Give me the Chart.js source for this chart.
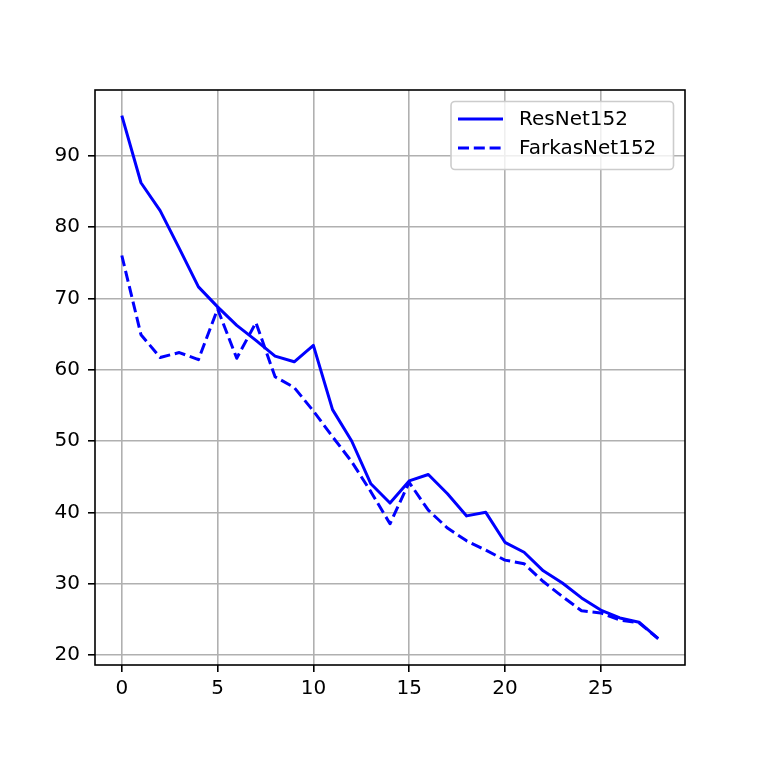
<!DOCTYPE html>
<html>
<head>
<meta charset="utf-8">
<script src="https://cdn.jsdelivr.net/npm/chart.js@4/dist/chart.umd.min.js"></script>
<style>
html,body{margin:0;padding:0;background:#fff;}
#wrap{width:761px;height:761px;position:relative;}
</style>
</head>
<body>
<div id="wrap"><canvas id="c" width="761" height="761"></canvas></div>
<script>
const epochs = [0,1,2,3,4,5,6,7,8,9,10,11,12,13,14,15,16,17,18,19,20,21,22,23,24,25,26,27,28];
const resnet152 = [95.6,86.2,82.3,77.0,71.6,68.8,66.2,64.1,61.9,61.1,63.4,54.4,50.0,44.0,41.3,44.4,45.3,42.6,39.5,40.0,35.8,34.4,31.8,30.1,28.0,26.3,25.2,24.6,22.3];
const farkasnet152 = [76.0,64.9,61.7,62.4,61.4,68.5,61.6,66.6,59.0,57.5,54.2,50.6,47.1,42.9,38.4,44.2,40.3,37.8,36.0,34.7,33.3,32.8,30.3,28.2,26.2,25.9,24.9,24.5,22.3];
const seriesNames = ["ResNet152","FarkasNet152"];
const xTicks = [0,5,10,15,20,25];
const yTicks = [20,30,40,50,60,70,80,90];

const FONT = "'DejaVu Sans', sans-serif";
const FS = 20;
const BLUE = '#0000ff';

const frame = {
  id:'frame',
  afterDatasetsDraw(chart){
    const {ctx, chartArea:a} = chart;
    ctx.save();
    ctx.strokeStyle='#000';
    ctx.lineWidth=1.6;
    ctx.strokeRect(a.left, a.top, a.right-a.left, a.bottom-a.top);
    ctx.restore();
  },
  afterDraw(chart){
    const ctx = chart.ctx;
    ctx.save();
    // legend box
    const x0=451, y0=101.5, x1=673.5, y1=169.5, r=4;
    ctx.beginPath();
    ctx.moveTo(x0+r,y0);
    ctx.arcTo(x1,y0,x1,y1,r);
    ctx.arcTo(x1,y1,x0,y1,r);
    ctx.arcTo(x0,y1,x0,y0,r);
    ctx.arcTo(x0,y0,x1,y0,r);
    ctx.closePath();
    ctx.fillStyle='rgba(255,255,255,0.8)';
    ctx.fill();
    ctx.strokeStyle='#cccccc';
    ctx.lineWidth=1.6;
    ctx.stroke();
    const rows=[119,148];
    chart.data.datasets.forEach((ds,i)=>{
      ctx.beginPath();
      ctx.strokeStyle=ds.borderColor;
      ctx.lineWidth=ds.borderWidth;
      ctx.setLineDash(ds.borderDash||[]);
      ctx.moveTo(458, rows[i]);
      ctx.lineTo(503, rows[i]);
      ctx.stroke();
      ctx.setLineDash([]);
      ctx.fillStyle='#000';
      ctx.font = FS+'px '+FONT;
      ctx.textBaseline='middle';
      ctx.textAlign='left';
      ctx.fillText(ds.label, 519, rows[i]+1);
    });
    ctx.restore();
  }
};

new Chart(document.getElementById('c'), {
  type:'line',
  data:{
    datasets:[
      {label:seriesNames[0], data:epochs.map((e,i)=>({x:e,y:resnet152[i]})), borderColor:BLUE, backgroundColor:BLUE, borderWidth:3, pointRadius:0, tension:0, borderJoinStyle:'round', order:1},
      {label:seriesNames[1], data:epochs.map((e,i)=>({x:e,y:farkasnet152[i]})), borderColor:BLUE, backgroundColor:BLUE, borderWidth:3, pointRadius:0, tension:0, borderJoinStyle:'round', borderDash:[11,4.8], order:0}
    ]
  },
  options:{
    responsive:false,
    animation:false,
    devicePixelRatio:1,
    layout:{padding:{left:0,top:90,right:76,bottom:0}},
    plugins:{legend:{display:false}, tooltip:{enabled:false}, title:{display:false}},
    scales:{
      x:{
        type:'linear', min:-1.4, max:29.4,
        afterBuildTicks(s){ s.ticks = xTicks.map(v=>({value:v})); },
        afterFit(s){ s.height = 96; },
        grid:{color:'#b0b0b0', lineWidth:1.6, tickColor:'#000', tickWidth:1.6, tickLength:7, drawTicks:true},
        border:{display:false},
        ticks:{color:'#000', font:{family:FONT,size:FS}, padding:5, maxRotation:0, autoSkip:false}
      },
      y:{
        type:'linear', min:18.6, max:99.2,
        afterBuildTicks(s){ s.ticks = yTicks.map(v=>({value:v})); },
        afterFit(s){ s.width = 95; },
        grid:{color:'#b0b0b0', lineWidth:1.6, tickColor:'#000', tickWidth:1.6, tickLength:7, drawTicks:true},
        border:{display:false},
        ticks:{color:'#000', font:{family:FONT,size:FS}, padding:8, autoSkip:false}
      }
    }
  },
  plugins:[frame]
});
</script>
</body>
</html>
